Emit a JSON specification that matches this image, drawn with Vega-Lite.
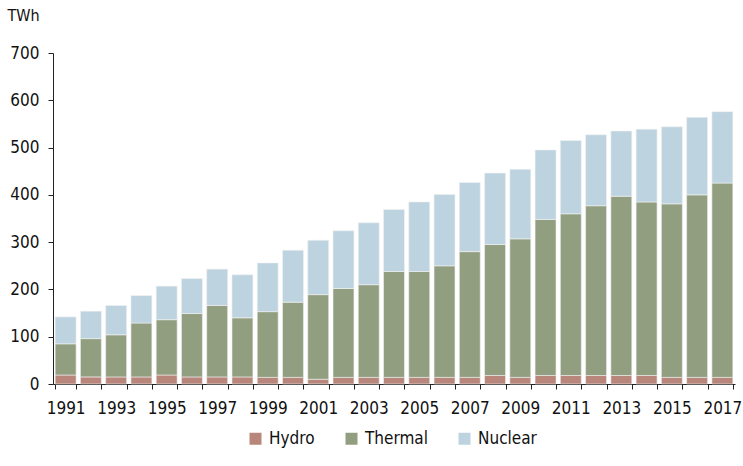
{
  "$schema": "https://vega.github.io/schema/vega-lite/v6.json",
  "width": 682,
  "height": 331,
  "autosize": "none",
  "padding": {"left": 53, "top": 53, "right": 8, "bottom": 82},
  "background": "white",
  "config": {
    "view": {"stroke": null},
    "font": "'DejaVu Sans Condensed', Roboto, sans-serif",
    "axis": {"grid": false, "domainColor": "#222222", "tickColor": "#222222", "labelColor": "#111111", "labelFont": "'DejaVu Sans Condensed', Roboto, sans-serif", "labelFontSize": 17, "domainWidth": 1, "tickWidth": 1, "tickSize": 5}
  },
  "datasets": {
    "energy": [
      {"year": 1991, "source": "Hydro", "twh": 19}, {"year": 1991, "source": "Thermal", "twh": 66}, {"year": 1991, "source": "Nuclear", "twh": 57},
      {"year": 1992, "source": "Hydro", "twh": 15}, {"year": 1992, "source": "Thermal", "twh": 81}, {"year": 1992, "source": "Nuclear", "twh": 58},
      {"year": 1993, "source": "Hydro", "twh": 15}, {"year": 1993, "source": "Thermal", "twh": 89}, {"year": 1993, "source": "Nuclear", "twh": 62},
      {"year": 1994, "source": "Hydro", "twh": 15}, {"year": 1994, "source": "Thermal", "twh": 114}, {"year": 1994, "source": "Nuclear", "twh": 58},
      {"year": 1995, "source": "Hydro", "twh": 19}, {"year": 1995, "source": "Thermal", "twh": 117}, {"year": 1995, "source": "Nuclear", "twh": 71},
      {"year": 1996, "source": "Hydro", "twh": 15}, {"year": 1996, "source": "Thermal", "twh": 134}, {"year": 1996, "source": "Nuclear", "twh": 74},
      {"year": 1997, "source": "Hydro", "twh": 15}, {"year": 1997, "source": "Thermal", "twh": 151}, {"year": 1997, "source": "Nuclear", "twh": 77},
      {"year": 1998, "source": "Hydro", "twh": 15}, {"year": 1998, "source": "Thermal", "twh": 125}, {"year": 1998, "source": "Nuclear", "twh": 91},
      {"year": 1999, "source": "Hydro", "twh": 14}, {"year": 1999, "source": "Thermal", "twh": 139}, {"year": 1999, "source": "Nuclear", "twh": 103},
      {"year": 2000, "source": "Hydro", "twh": 14}, {"year": 2000, "source": "Thermal", "twh": 159}, {"year": 2000, "source": "Nuclear", "twh": 110},
      {"year": 2001, "source": "Hydro", "twh": 10}, {"year": 2001, "source": "Thermal", "twh": 179}, {"year": 2001, "source": "Nuclear", "twh": 115},
      {"year": 2002, "source": "Hydro", "twh": 14}, {"year": 2002, "source": "Thermal", "twh": 188}, {"year": 2002, "source": "Nuclear", "twh": 122},
      {"year": 2003, "source": "Hydro", "twh": 14}, {"year": 2003, "source": "Thermal", "twh": 196}, {"year": 2003, "source": "Nuclear", "twh": 131},
      {"year": 2004, "source": "Hydro", "twh": 14}, {"year": 2004, "source": "Thermal", "twh": 224}, {"year": 2004, "source": "Nuclear", "twh": 131},
      {"year": 2005, "source": "Hydro", "twh": 14}, {"year": 2005, "source": "Thermal", "twh": 224}, {"year": 2005, "source": "Nuclear", "twh": 147},
      {"year": 2006, "source": "Hydro", "twh": 14}, {"year": 2006, "source": "Thermal", "twh": 236}, {"year": 2006, "source": "Nuclear", "twh": 151},
      {"year": 2007, "source": "Hydro", "twh": 14}, {"year": 2007, "source": "Thermal", "twh": 266}, {"year": 2007, "source": "Nuclear", "twh": 146},
      {"year": 2008, "source": "Hydro", "twh": 18}, {"year": 2008, "source": "Thermal", "twh": 277}, {"year": 2008, "source": "Nuclear", "twh": 151},
      {"year": 2009, "source": "Hydro", "twh": 14}, {"year": 2009, "source": "Thermal", "twh": 293}, {"year": 2009, "source": "Nuclear", "twh": 147},
      {"year": 2010, "source": "Hydro", "twh": 18}, {"year": 2010, "source": "Thermal", "twh": 330}, {"year": 2010, "source": "Nuclear", "twh": 147},
      {"year": 2011, "source": "Hydro", "twh": 18}, {"year": 2011, "source": "Thermal", "twh": 342}, {"year": 2011, "source": "Nuclear", "twh": 155},
      {"year": 2012, "source": "Hydro", "twh": 18}, {"year": 2012, "source": "Thermal", "twh": 359}, {"year": 2012, "source": "Nuclear", "twh": 150},
      {"year": 2013, "source": "Hydro", "twh": 18}, {"year": 2013, "source": "Thermal", "twh": 379}, {"year": 2013, "source": "Nuclear", "twh": 138},
      {"year": 2014, "source": "Hydro", "twh": 18}, {"year": 2014, "source": "Thermal", "twh": 367}, {"year": 2014, "source": "Nuclear", "twh": 154},
      {"year": 2015, "source": "Hydro", "twh": 14}, {"year": 2015, "source": "Thermal", "twh": 367}, {"year": 2015, "source": "Nuclear", "twh": 163},
      {"year": 2016, "source": "Hydro", "twh": 14}, {"year": 2016, "source": "Thermal", "twh": 386}, {"year": 2016, "source": "Nuclear", "twh": 164},
      {"year": 2017, "source": "Hydro", "twh": 14}, {"year": 2017, "source": "Thermal", "twh": 411}, {"year": 2017, "source": "Nuclear", "twh": 151}
    ]
  },
  "data": {"name": "energy"},
  "transform": [
    {"calculate": "indexof(['Hydro', 'Thermal', 'Nuclear'], datum.source)", "as": "stackIdx"}
  ],
  "mark": {"type": "bar", "stroke": "#f2f2f2", "strokeWidth": 0.6},
  "encoding": {
    "x": {
      "field": "year",
      "type": "ordinal",
      "scale": {"paddingInner": 0.17, "paddingOuter": 0.085},
      "axis": {
        "title": null,
        "labelAngle": 0,
        "tickBand": "extent",
        "labelOverlap": false,
        "labelPadding": 11,
        "labelExpr": "datum.value % 2 == 1 ? datum.label : ''"
      }
    },
    "y": {
      "field": "twh",
      "type": "quantitative",
      "stack": "zero",
      "scale": {"domain": [0, 700], "nice": false},
      "axis": {
        "values": [0, 100, 200, 300, 400, 500, 600, 700],
        "labelPadding": 9,
        "title": "TWh",
        "titleAngle": 0,
        "titleAlign": "left",
        "titleBaseline": "middle",
        "titleX": -46,
        "titleY": -38,
        "titleFont": "'DejaVu Sans Condensed', Roboto, sans-serif",
        "titleFontSize": 16,
        "titleFontWeight": "normal",
        "titleColor": "#111111"
      }
    },
    "order": {"field": "stackIdx", "type": "quantitative", "sort": "ascending"},
    "color": {
      "field": "source",
      "type": "nominal",
      "scale": {"domain": ["Hydro", "Thermal", "Nuclear"], "range": ["#b8867b", "#929e80", "#bdd3e0"]},
      "legend": {
        "title": null,
        "orient": "none",
        "direction": "horizontal",
        "legendX": 194,
        "legendY": 377,
        "symbolType": "square",
        "symbolSize": 144,
        "symbolStrokeWidth": 0,
        "symbolOpacity": 1,
        "labelFont": "'DejaVu Sans Condensed', Roboto, sans-serif",
        "labelFontSize": 17,
        "labelColor": "#111111",
        "labelOffset": 5,
        "columnPadding": 28
      }
    }
  }
}
